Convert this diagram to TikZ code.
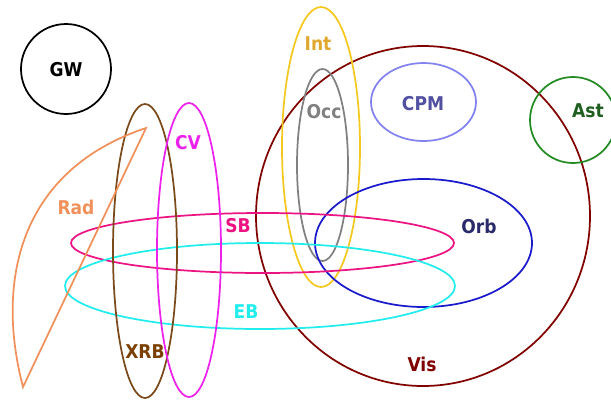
\documentclass[tikz,border=0pt]{standalone}
\usepackage{fontspec}
\newfontfamily\lblfont{DejaVu Sans}[FakeStretch=0.9]

\definecolor{visred}{RGB}{128,0,0}
\definecolor{intgold}{RGB}{244,200,30}
\definecolor{inttext}{RGB}{224,168,46}
\definecolor{occgray}{RGB}{128,128,128}
\definecolor{cpmline}{RGB}{130,130,240}
\definecolor{cpmtext}{RGB}{82,80,160}
\definecolor{astgreen}{RGB}{34,139,34}
\definecolor{asttext}{RGB}{30,94,30}
\definecolor{orbblue}{RGB}{26,26,204}
\definecolor{orbtext}{RGB}{42,42,106}
\definecolor{sbpink}{RGB}{236,20,130}
\definecolor{ebcyan}{RGB}{34,236,236}
\definecolor{xrbbrown}{RGB}{122,74,26}
\definecolor{xrbtext}{RGB}{123,63,0}
\definecolor{cvmag}{RGB}{236,34,236}
\definecolor{radorange}{RGB}{240,144,90}

\tikzset{every picture/.style={line width=1.3pt}}
\tikzset{setname/.style={font=\lblfont\bfseries\fontsize{14.25}{16}\selectfont, inner sep=0pt}}

\begin{document}
\begin{tikzpicture}[x=0.75pt,y=0.75pt,yscale=-1,xscale=1]

        \useasboundingbox (0,0) rectangle (611,401);

        % sets
        \draw[black] (66,69) circle (45);
        \draw[visred] (423,216) ellipse (167 and 170);
        \draw[astgreen] (573,120) circle (43);
        \draw[cpmline] (423.5,102) ellipse (52.5 and 39);
        \draw[intgold] (321,147) ellipse (39 and 140);
        \draw[occgray] (322.5,165) ellipse (25.5 and 96);
        \draw[orbblue] (423.5,243) ellipse (108.5 and 64);
        \draw[sbpink] (262.5,243) ellipse (191.5 and 30);
        \draw[ebcyan] (260,286) ellipse (195 and 43);
        \draw[xrbbrown] (145,251) ellipse (32 and 147);
        \draw[cvmag] (189,250) ellipse (32 and 147);
        \draw[radorange] (146,128) -- (23,387) .. controls (-5,280) and (20,170) .. cycle;

        % labels
        \node[setname, text=black] (gw) at (66,70){GW};
        \node[setname, text=visred] (vis) at (422,364){Vis};
        \node[setname, text=asttext] (ast) at (588,111){Ast};
        \node[setname, text=cpmtext] (cpm) at (423,104){CPM};
        \node[setname, text=inttext] (int) at (318,44){Int};
        \node[setname, text=occgray] (occ) at (324,112){Occ};
        \node[setname, text=orbtext] (orb) at (479,226){Orb};
        \node[setname, text=sbpink] (sb) at (238,226){SB};
        \node[setname, text=ebcyan] (eb) at (246,312){EB};
        \node[setname, text=xrbtext] (xrb) at (145,352){XRB};
        \node[setname, text=cvmag] (cv) at (188,143){CV};
        \node[setname, text=radorange] (rad) at (76,207){Rad};

        \end{tikzpicture}
\end{document}
